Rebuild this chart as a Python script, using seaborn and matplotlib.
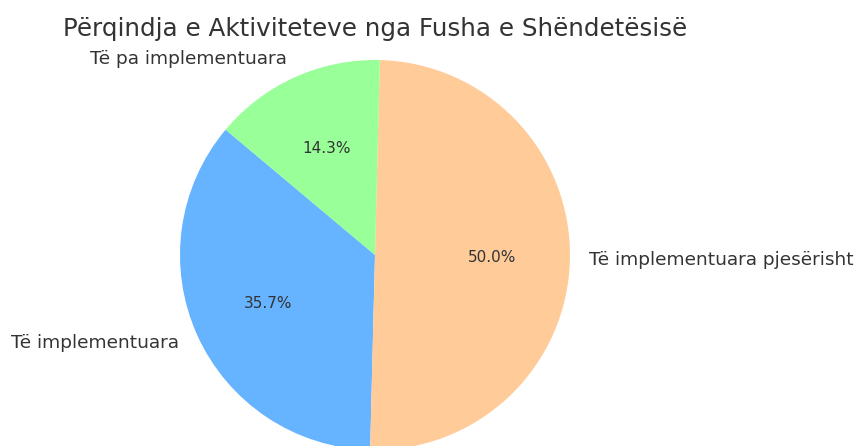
import matplotlib
matplotlib.use("Agg")
import matplotlib.pyplot as plt
import seaborn as sns

sns.set_theme(style="white")
plt.rcParams['font.family'] = ['DejaVu Sans']

labels = ['Të implementuara', 'Të implementuara pjesërisht', 'Të pa implementuara']
counts = [5, 7, 2]
colors = ['#66b3ff', '#ffcc99', '#99ff99']

fig = plt.figure(figsize=(8.56, 4.46), dpi=100)
# square axes so the pie keeps its round shape
ax = fig.add_axes([180 / 856, -4 / 446, 390 / 856, 390 / 446])

wedges, texts, autotexts = ax.pie(counts, labels=labels, colors=colors,
                                  autopct='%1.1f%%', startangle=140,
                                  wedgeprops={'linewidth': 0},
                                  textprops={'fontsize': 13.3, 'color': '#333333'})
for t in autotexts:
    t.set_fontsize(11)
ax.set_xlim(-1, 1)
ax.set_ylim(-1, 1)
ax.set_aspect('equal')
ax.set_title('Përqindja e Aktiviteteve nga Fusha e Shëndetësisë', fontsize=17.7,
             color='#333333', pad=17)

fig.savefig('out.png', dpi=100)
